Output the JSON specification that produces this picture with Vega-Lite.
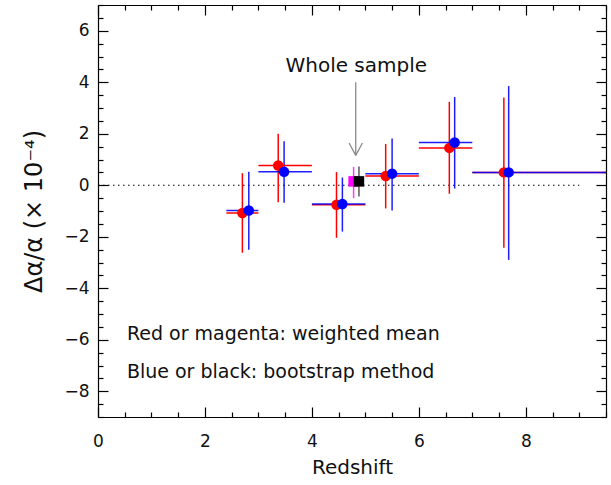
{
  "$schema": "https://vega.github.io/schema/vega-lite/v6.json",
  "width": 508,
  "height": 412,
  "autosize": "none",
  "padding": {"left": 98, "top": 5, "right": 5, "bottom": 68},
  "config": {
    "view": {"stroke": null},
    "font": "DejaVu Sans",
    "axis": {
      "grid": false,
      "labelFlush": false,
      "labelOverlap": false,
      "domainColor": "#000000",
      "domainWidth": 1.2,
      "tickColor": "#000000",
      "tickWidth": 1.2,
      "labelColor": "#111111",
      "labelFont": "DejaVu Sans",
      "labelFontSize": 17,
      "titleFont": "DejaVu Sans",
      "titleColor": "#111111",
      "titleFontWeight": "normal"
    }
  },
  "datasets": {
    "pts": [
      {"bin": 1, "series": "weighted", "z": 2.70, "val": -1.08, "ylo": -2.62, "yhi": 0.47, "zlo": 2.4, "zhi": 3.0},
      {"bin": 1, "series": "bootstrap", "z": 2.82, "val": -0.98, "ylo": -2.50, "yhi": 0.52, "zlo": 2.4, "zhi": 3.0},
      {"bin": 2, "series": "weighted", "z": 3.37, "val": 0.77, "ylo": -0.66, "yhi": 2.00, "zlo": 3.0, "zhi": 4.0},
      {"bin": 2, "series": "bootstrap", "z": 3.48, "val": 0.52, "ylo": -0.68, "yhi": 1.71, "zlo": 3.0, "zhi": 4.0},
      {"bin": 3, "series": "weighted", "z": 4.46, "val": -0.76, "ylo": -2.04, "yhi": 0.51, "zlo": 4.0, "zhi": 5.0},
      {"bin": 3, "series": "bootstrap", "z": 4.57, "val": -0.73, "ylo": -1.80, "yhi": 0.30, "zlo": 4.0, "zhi": 5.0},
      {"bin": 4, "series": "weighted", "z": 5.38, "val": 0.36, "ylo": -0.90, "yhi": 1.60, "zlo": 5.0, "zhi": 6.0},
      {"bin": 4, "series": "bootstrap", "z": 5.50, "val": 0.45, "ylo": -0.98, "yhi": 1.82, "zlo": 5.0, "zhi": 6.0},
      {"bin": 5, "series": "weighted", "z": 6.57, "val": 1.45, "ylo": -0.33, "yhi": 3.24, "zlo": 6.0, "zhi": 7.0},
      {"bin": 5, "series": "bootstrap", "z": 6.67, "val": 1.66, "ylo": -0.13, "yhi": 3.43, "zlo": 6.0, "zhi": 7.0},
      {"bin": 6, "series": "weighted", "z": 7.59, "val": 0.50, "ylo": -2.43, "yhi": 3.41, "zlo": 7.0, "zhi": 10.0},
      {"bin": 6, "series": "bootstrap", "z": 7.68, "val": 0.50, "ylo": -2.90, "yhi": 3.85, "zlo": 7.0, "zhi": 10.0},
      {"bin": 0, "series": "whole_weighted", "z": 4.78, "val": 0.15, "ylo": -0.50, "yhi": 0.71, "zlo": null, "zhi": null},
      {"bin": 0, "series": "whole_bootstrap", "z": 4.88, "val": 0.15, "ylo": -0.44, "yhi": 0.73, "zlo": null, "zhi": null}
    ],
    "zero": [{"x": 0, "x2": 9, "y": 0}],
    "arrow": [
      {"x": 4.82, "y": 4.0, "x2": 4.82, "y2": 1.16},
      {"x": 4.82, "y": 1.16, "x2": 4.695, "y2": 1.64},
      {"x": 4.82, "y": 1.16, "x2": 4.945, "y2": 1.64}
    ],
    "notes": [
      {"label": "Whole sample", "x": 4.83, "y": 4.63, "align": "center"},
      {"label": "Red or magenta: weighted mean", "x": 0.54, "y": -5.78, "align": "left"},
      {"label": "Blue or black: bootstrap method", "x": 0.54, "y": -7.27, "align": "left"}
    ]
  },
  "resolve": {"axis": {"x": "independent", "y": "independent"}},
  "layer": [
    {
      "data": {"name": "zero"},
      "mark": {"type": "rule", "color": "#000000", "strokeWidth": 1.2, "strokeDash": [1.5, 3.5]},
      "encoding": {
        "x": {"field": "x", "type": "quantitative", "scale": {"domain": [0, 9.5], "nice": false, "zero": false},
          "axis": {"orient": "top", "title": null, "labels": false,
            "values": [0,0.5,1,1.5,2,2.5,3,3.5,4,4.5,5,5.5,6,6.5,7,7.5,8,8.5,9,9.5],
            "tickSize": {"condition": {"test": "datum.value % 2 === 0", "value": -10}, "value": -5}}},
        "x2": {"field": "x2"},
        "y": {"field": "y", "type": "quantitative", "scale": {"domain": [-9, 7], "nice": false, "zero": false},
          "axis": {"orient": "right", "title": null, "labels": false,
            "values": [-9,-8.5,-8,-7.5,-7,-6.5,-6,-5.5,-5,-4.5,-4,-3.5,-3,-2.5,-2,-1.5,-1,-0.5,0,0.5,1,1.5,2,2.5,3,3.5,4,4.5,5,5.5,6,6.5,7],
            "tickSize": {"condition": {"test": "datum.value % 2 === 0", "value": -10}, "value": -5}}}
      }
    },
    {
      "data": {"name": "pts"},
      "mark": {"type": "rule", "strokeWidth": 1.5},
      "encoding": {
        "x": {"field": "z", "type": "quantitative", "scale": {"domain": [0, 9.5], "nice": false, "zero": false},
          "axis": {"orient": "bottom", "title": "Redshift", "titleFontSize": 20, "titlePadding": 3,
            "values": [0,0.5,1,1.5,2,2.5,3,3.5,4,4.5,5,5.5,6,6.5,7,7.5,8,8.5,9,9.5],
            "labelExpr": "datum.value % 2 === 0 ? format(datum.value, 'd') : ''",
            "labelPadding": 26,
            "tickSize": {"condition": {"test": "datum.value % 2 === 0", "value": -10}, "value": -5}}},
        "y": {"field": "ylo", "type": "quantitative", "scale": {"domain": [-9, 7], "nice": false, "zero": false},
          "axis": {"orient": "left", "title": "Δα/α (× 10⁻⁴)", "titleFontSize": 24, "titlePadding": 17,
            "values": [-9,-8.5,-8,-7.5,-7,-6.5,-6,-5.5,-5,-4.5,-4,-3.5,-3,-2.5,-2,-1.5,-1,-0.5,0,0.5,1,1.5,2,2.5,3,3.5,4,4.5,5,5.5,6,6.5,7],
            "labelExpr": "datum.value % 2 === 0 ? format(datum.value, 'd') : ''",
            "labelPadding": 19,
            "tickSize": {"condition": {"test": "datum.value % 2 === 0", "value": -10}, "value": -5}}},
        "y2": {"field": "yhi"},
        "color": {"field": "series", "type": "nominal", "legend": null,
          "scale": {"domain": ["weighted", "bootstrap", "whole_weighted", "whole_bootstrap"], "range": ["#ff0000", "#0000ff", "#ff00ff", "#000000"]}},
        "opacity": {"field": "series", "type": "nominal", "legend": null,
          "scale": {"domain": ["weighted", "bootstrap", "whole_weighted", "whole_bootstrap"], "range": [1, 0.66, 1, 0.7]}}
      }
    },
    {
      "data": {"name": "pts"},
      "transform": [{"filter": "isValid(datum.zlo)"}],
      "mark": {"type": "rule", "strokeWidth": 1.5, "clip": true},
      "encoding": {
        "x": {"field": "zlo", "type": "quantitative", "scale": {"domain": [0, 9.5], "nice": false, "zero": false}, "axis": null},
        "x2": {"field": "zhi"},
        "y": {"field": "val", "type": "quantitative", "scale": {"domain": [-9, 7], "nice": false, "zero": false}, "axis": null},
        "color": {"field": "series", "type": "nominal", "legend": null,
          "scale": {"domain": ["weighted", "bootstrap", "whole_weighted", "whole_bootstrap"], "range": ["#ff0000", "#0000ff", "#ff00ff", "#000000"]}},
        "opacity": {"field": "series", "type": "nominal", "legend": null,
          "scale": {"domain": ["weighted", "bootstrap", "whole_weighted", "whole_bootstrap"], "range": [1, 0.66, 1, 0.7]}}
      }
    },
    {
      "data": {"name": "pts"},
      "mark": {"type": "point", "filled": true, "opacity": 1, "strokeWidth": 0},
      "encoding": {
        "x": {"field": "z", "type": "quantitative", "scale": {"domain": [0, 9.5], "nice": false, "zero": false}, "axis": null},
        "y": {"field": "val", "type": "quantitative", "scale": {"domain": [-9, 7], "nice": false, "zero": false}, "axis": null},
        "color": {"field": "series", "type": "nominal", "legend": null,
          "scale": {"domain": ["weighted", "bootstrap", "whole_weighted", "whole_bootstrap"], "range": ["#ff0000", "#0000ff", "#ff00ff", "#000000"]}},
        "shape": {"field": "series", "type": "nominal", "legend": null,
          "scale": {"domain": ["weighted", "bootstrap", "whole_weighted", "whole_bootstrap"], "range": ["circle", "circle", "square", "square"]}},
        "size": {"field": "series", "type": "nominal", "legend": null,
          "scale": {"domain": ["weighted", "bootstrap", "whole_weighted", "whole_bootstrap"], "range": [110, 110, 95, 110]}}
      }
    },
    {
      "data": {"name": "arrow"},
      "mark": {"type": "rule", "color": "#8a8a8a", "strokeWidth": 1.3},
      "encoding": {
        "x": {"field": "x", "type": "quantitative", "scale": {"domain": [0, 9.5], "nice": false, "zero": false}, "axis": null},
        "x2": {"field": "x2"},
        "y": {"field": "y", "type": "quantitative", "scale": {"domain": [-9, 7], "nice": false, "zero": false}, "axis": null},
        "y2": {"field": "y2"}
      }
    },
    {
      "data": {"name": "notes"},
      "transform": [{"filter": "datum.align === 'center'"}],
      "mark": {"type": "text", "align": "center", "baseline": "middle", "fontSize": 20, "color": "#111111"},
      "encoding": {
        "x": {"field": "x", "type": "quantitative", "scale": {"domain": [0, 9.5], "nice": false, "zero": false}, "axis": null},
        "y": {"field": "y", "type": "quantitative", "scale": {"domain": [-9, 7], "nice": false, "zero": false}, "axis": null},
        "text": {"field": "label"}
      }
    },
    {
      "data": {"name": "notes"},
      "transform": [{"filter": "datum.align === 'left'"}],
      "mark": {"type": "text", "align": "left", "baseline": "middle", "fontSize": 19, "color": "#111111"},
      "encoding": {
        "x": {"field": "x", "type": "quantitative", "scale": {"domain": [0, 9.5], "nice": false, "zero": false}, "axis": null},
        "y": {"field": "y", "type": "quantitative", "scale": {"domain": [-9, 7], "nice": false, "zero": false}, "axis": null},
        "text": {"field": "label"}
      }
    }
  ]
}
